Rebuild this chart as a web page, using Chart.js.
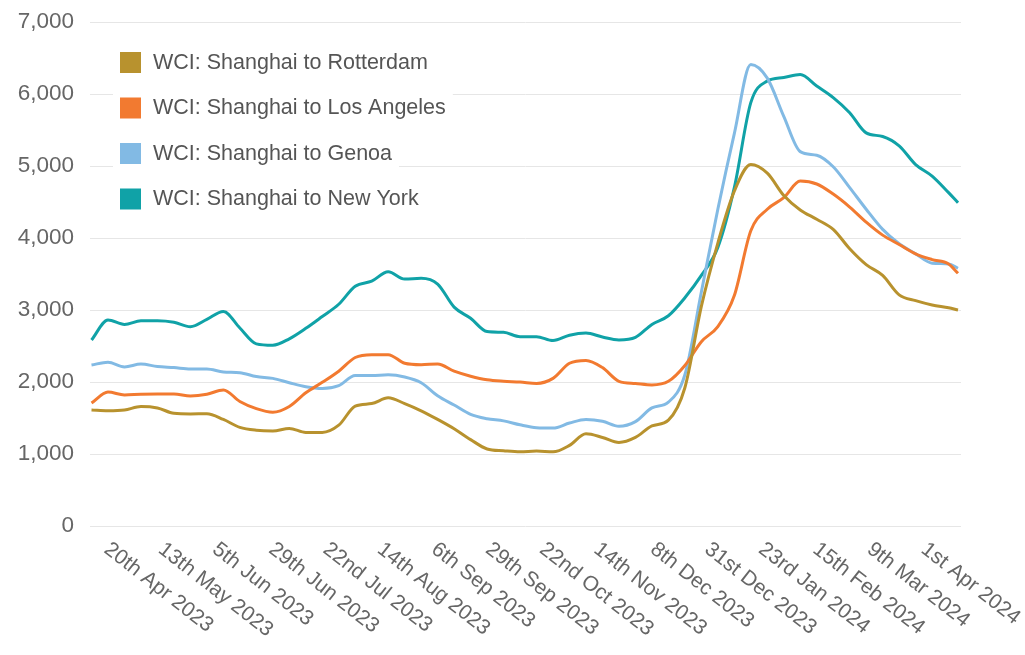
<!DOCTYPE html>
<html lang="en">
<head>
  <meta charset="UTF-8" />
  <title>WCI container freight rates</title>
  <script src="https://cdn.jsdelivr.net/npm/chart.js"></script>
  <style>
    body {
      margin: 0;
      background: #ffffff;
      font-family: "Liberation Sans", Arial, sans-serif;
    }
    .chart-box {
      width: 1025px;
      height: 655px;
      position: relative;
    }
  </style>
</head>
<body>
  <div class="chart-box">
    <canvas id="chart"></canvas>
  </div>

  <script>
    // weekly readings, USD per 40ft container
    const dates = [
      '2023-04-17', '2023-04-24', '2023-05-01', '2023-05-08', '2023-05-15', '2023-05-22', '2023-05-29',
      '2023-06-05', '2023-06-12', '2023-06-19', '2023-06-26', '2023-07-03', '2023-07-10', '2023-07-17',
      '2023-07-24', '2023-07-31', '2023-08-07', '2023-08-14', '2023-08-21', '2023-08-28', '2023-09-04',
      '2023-09-11', '2023-09-18', '2023-09-25', '2023-10-02', '2023-10-09', '2023-10-16', '2023-10-23',
      '2023-10-30', '2023-11-06', '2023-11-13', '2023-11-20', '2023-11-27', '2023-12-04', '2023-12-11',
      '2023-12-18', '2023-12-25', '2024-01-01', '2024-01-08', '2024-01-15', '2024-01-22', '2024-01-29',
      '2024-02-05', '2024-02-12', '2024-02-19', '2024-02-26', '2024-03-04', '2024-03-11', '2024-03-18',
      '2024-03-25', '2024-04-01', '2024-04-08', '2024-04-15', '2024-04-19'
    ];

    const rotterdam = [1611, 1600, 1610, 1660, 1640, 1565, 1556, 1560, 1480, 1370, 1330, 1320, 1355, 1300,
      1300, 1400, 1665, 1700, 1780, 1700, 1600, 1480, 1350, 1200, 1070, 1045, 1030, 1040, 1030, 1120, 1280,
      1230, 1160, 1230, 1390, 1470, 1920, 3050, 3930, 4650, 5020, 4900, 4590, 4390, 4260, 4120, 3850, 3630,
      3480, 3210, 3130, 3070, 3030, 3000];
    const losAngeles = [1708, 1860, 1820, 1830, 1833, 1833, 1806, 1830, 1890, 1730, 1630, 1580, 1660, 1850,
      1995, 2150, 2340, 2380, 2380, 2260, 2240, 2250, 2150, 2080, 2030, 2010, 2000, 1980, 2050, 2260, 2300,
      2200, 2010, 1980, 1960, 2010, 2230, 2560, 2770, 3200, 4100, 4400, 4560, 4790, 4750, 4610, 4430, 4220,
      4040, 3910, 3780, 3700, 3640, 3510];
    const genoa = [2236, 2275, 2210, 2250, 2215, 2200, 2180, 2180, 2140, 2130, 2075, 2050, 1990, 1935,
      1910, 1950, 2090, 2090, 2100, 2070, 1990, 1810, 1680, 1550, 1490, 1460, 1405, 1365, 1360, 1430, 1480,
      1455, 1385, 1450, 1640, 1720, 2100, 3250, 4400, 5450, 6410, 6220, 5690, 5200, 5150, 4990, 4700, 4400,
      4120, 3920, 3780, 3650, 3640, 3580];
    const newYork = [2583, 2861, 2800, 2850, 2851, 2830, 2768, 2870, 2980, 2750, 2530, 2510, 2600, 2745,
      2910, 3080, 3330, 3400, 3530, 3430, 3440, 3360, 3040, 2885, 2700, 2690, 2630, 2630, 2575, 2650, 2680,
      2625, 2585, 2620, 2800, 2920, 3170, 3480, 3870, 4700, 5880, 6180, 6230, 6270, 6110, 5950, 5740, 5460,
      5410, 5280, 5020, 4860, 4630, 4490];

    const seriesNames = ['WCI: Shanghai to Rotterdam', 'WCI: Shanghai to Los Angeles',
      'WCI: Shanghai to Genoa', 'WCI: Shanghai to New York'];
    const seriesColors = ['#b8922e', '#f27a30', '#82bae4', '#10a2a7'];

    const tickDates = ['2023-04-20', '2023-05-13', '2023-06-05', '2023-06-29', '2023-07-22', '2023-08-14',
      '2023-09-06', '2023-09-29', '2023-10-22', '2023-11-14', '2023-12-08', '2023-12-31', '2024-01-23',
      '2024-02-15', '2024-03-09', '2024-04-01'];
    const tickLabels = ['20th Apr 2023', '13th May 2023', '5th Jun 2023', '29th Jun 2023', '22nd Jul 2023',
      '14th Aug 2023', '6th Sep 2023', '29th Sep 2023', '22nd Oct 2023', '14th Nov 2023', '8th Dec 2023',
      '31st Dec 2023', '23rd Jan 2024', '15th Feb 2024', '9th Mar 2024', '1st Apr 2024'];

    const FONT = '"Liberation Sans", Arial, sans-serif';
    const base = Date.UTC(2023, 3, 20);
    const dayOf = s => (Date.parse(s + 'T00:00:00Z') - base) / 86400000;

    const toPoints = vals => vals.map((v, i) => ({ x: dayOf(dates[i]), y: v }));
    const allSeries = [rotterdam, losAngeles, genoa, newYork];

    // rotated date labels, text running down to the right from each tick
    const dateLabels = {
      id: 'dateLabels',
      afterDraw(chart) {
        const sc = chart.scales.x;
        const ctx = chart.ctx;
        ctx.save();
        ctx.font = '21px ' + FONT;
        ctx.fillStyle = '#666666';
        ctx.textAlign = 'left';
        ctx.textBaseline = 'middle';
        tickDates.forEach((d, i) => {
          const x = sc.getPixelForValue(dayOf(d));
          ctx.save();
          ctx.translate(x + 8, sc.top + 21);
          ctx.rotate(38 * Math.PI / 180);
          ctx.fillText(tickLabels[i], 0, 0);
          ctx.restore();
        });
        ctx.restore();
      }
    };

    // legend sitting inside the plot, top left
    const innerLegend = {
      id: 'innerLegend',
      afterDraw(chart) {
        const ctx = chart.ctx;
        const area = chart.chartArea;
        ctx.save();
        ctx.font = '21.5px ' + FONT;
        ctx.textBaseline = 'middle';
        chart.data.datasets.forEach((ds, i) => {
          const bx = area.left + 30;
          const by = area.top + 30 + i * 45.5;
          const w = ctx.measureText(ds.label).width;
          ctx.fillStyle = '#ffffff';
          ctx.fillRect(bx - 7, by - 8, w + 33 + 14, 37);
          ctx.fillStyle = ds.borderColor;
          ctx.fillRect(bx, by, 21, 21);
          ctx.fillStyle = '#555555';
          ctx.fillText(ds.label, bx + 33, by + 11);
        });
        ctx.restore();
      }
    };

    new Chart(document.getElementById('chart'), {
      type: 'line',
      data: {
        datasets: allSeries.map((vals, i) => ({
          label: seriesNames[i],
          data: toPoints(vals),
          borderColor: seriesColors[i],
          backgroundColor: seriesColors[i],
          borderWidth: 3,
          pointRadius: 0,
          cubicInterpolationMode: 'monotone',
          fill: false
        }))
      },
      options: {
        responsive: true,
        maintainAspectRatio: false,
        animation: false,
        layout: { padding: { left: 0, right: 64, top: 22, bottom: 0 } },
        plugins: {
          legend: { display: false },
          tooltip: { enabled: false }
        },
        scales: {
          x: {
            type: 'linear',
            min: -3.64,
            max: 366.27,
            grid: { display: false },
            border: { display: false },
            ticks: { display: false },
            afterBuildTicks(scale) {
              scale.ticks = tickDates.map(d => ({ value: dayOf(d) }));
            },
            afterFit(scale) {
              scale.height = 129;
              scale.paddingLeft = 0;
              scale.paddingRight = 0;
            }
          },
          y: {
            min: 0,
            max: 7000,
            grid: { color: '#e6e6e6', lineWidth: 1, drawTicks: false },
            border: { display: false },
            ticks: {
              stepSize: 1000,
              padding: 16,
              color: '#666666',
              font: { family: FONT, size: 22.5 },
              callback: v => v.toLocaleString('en-US')
            },
            afterFit(scale) {
              scale.width = 90;
              scale.paddingTop = 0;
              scale.paddingBottom = 0;
            }
          }
        }
      },
      plugins: [dateLabels, innerLegend]
    });
  </script>
</body>
</html>
